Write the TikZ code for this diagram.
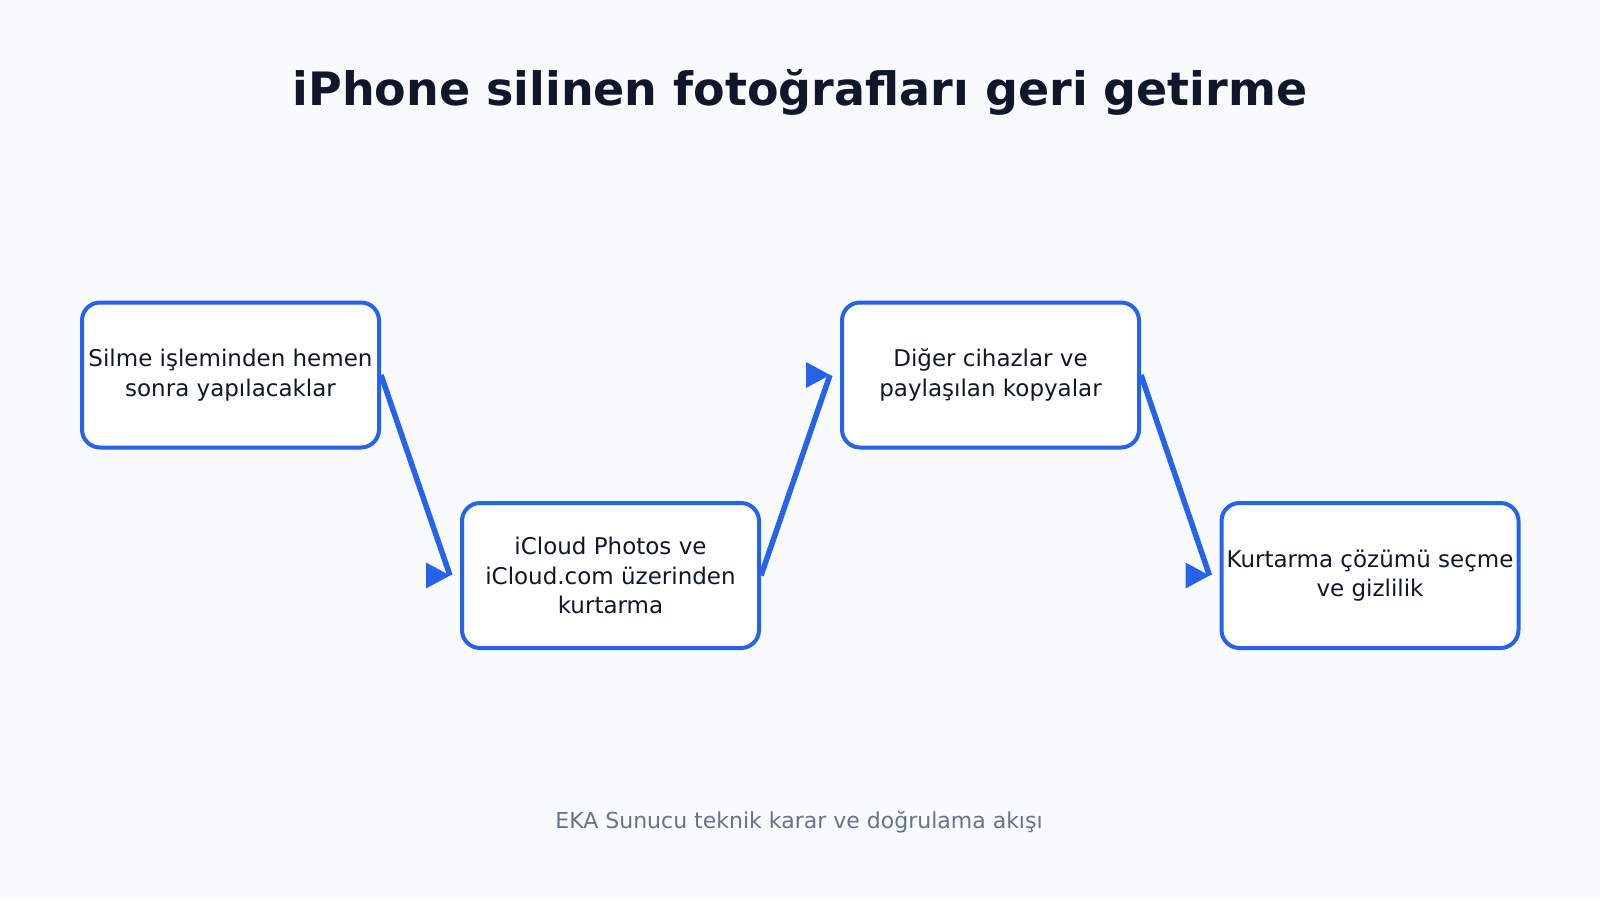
\documentclass[tikz,border=0pt]{standalone}
\usepackage{fontspec}
\setmainfont{DejaVu Sans}
\definecolor{bgcol}{HTML}{F8FAFC}
\definecolor{linecol}{HTML}{2563EB}
\definecolor{inkcol}{HTML}{0F172A}
\definecolor{mutecol}{HTML}{64748B}
\tikzset{
  stepbox/.style={draw=linecol, line width=4pt, fill=white, rounded corners=18pt,
    minimum width=297pt, minimum height=145pt, align=center, text=inkcol,
    inner sep=2pt, font=\fontsize{23}{29.6}\selectfont},
  flow/.style={draw=linecol, line width=5.5pt},
  tip/.style={fill=linecol}
}
\begin{document}
\begin{tikzpicture}[x=1pt,y=-1pt]
      \fill[bgcol] (0,0) rectangle (1600,900);
      \useasboundingbox (0,0) rectangle (1600,900);
      \node[font=\bfseries\fontsize{46}{54}\selectfont, text=inkcol] (title) at (800,92) {iPhone silinen fotoğrafları geri getirme};
      \node[stepbox] (b1) at (230.5,375) {Silme işleminden hemen\\sonra yapılacaklar};
      \node[stepbox] (b2) at (610.5,575.5) {iCloud Photos ve\\iCloud.com üzerinden\\kurtarma};
      \node[stepbox] (b3) at (990.5,375) {Diğer cihazlar ve\\paylaşılan kopyalar};
      \node[stepbox] (b4) at (1370,575.5) {Kurtarma çözümü seçme\\ve gizlilik};
      \node[font=\fontsize{22}{26}\selectfont, text=mutecol] (foot) at (799,822) {EKA Sunucu teknik karar ve doğrulama akışı};
      \coordinate (t1) at ([xshift=-10pt]b2.west);
      \coordinate (t2) at ([xshift=-10pt]b3.west);
      \coordinate (t3) at ([xshift=-10pt]b4.west);
      \draw[flow] (b1.east) -- (t1);
      \draw[flow] (b2.east) -- (t2);
      \draw[flow] (b3.east) -- (t3);
      \fill[tip] (t1) -- ++(-24,-13) -- ++(0,26) -- cycle;
      \fill[tip] (t2) -- ++(-24,-13) -- ++(0,26) -- cycle;
      \fill[tip] (t3) -- ++(-24,-13) -- ++(0,26) -- cycle;
    \end{tikzpicture}
\end{document}
